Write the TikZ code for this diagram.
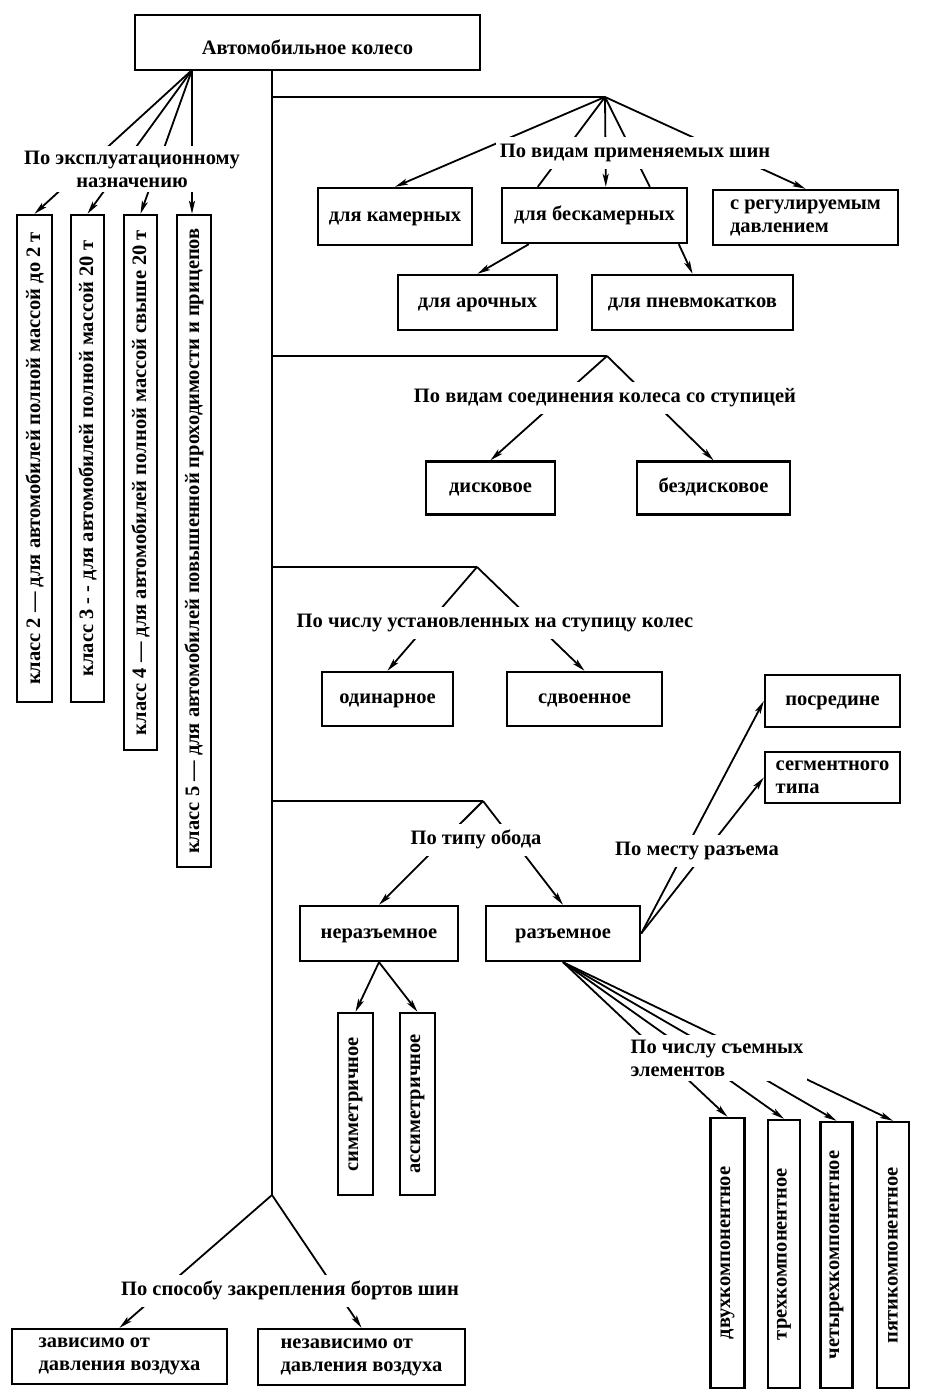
\documentclass[tikz,border=0pt]{standalone}
\usepackage{fontspec}
\usepackage{graphicx}
\setmainfont{Liberation Serif}
\usetikzlibrary{arrows.meta,calc}
\newcommand\myfs{\fontsize{20.5}{23}\selectfont\bfseries}
\begin{document}
\begin{tikzpicture}[x=1pt,y=-1pt,
 vbox/.style={draw,line width=2.4pt,inner sep=2pt,font=\myfs},
 box/.style={vbox,text height=12.7pt,text depth=3.3pt},
 mbox/.style={vbox,align=left},
 lbl/.style={fill=white,inner xsep=4pt,inner ysep=7pt,font=\myfs,text height=13.5pt,text depth=4pt},
 mlbl/.style={fill=white,inner xsep=4pt,inner ysep=5pt,font=\myfs},
 ln/.style={line width=1.8pt},
 arr/.style={ln,-{Stealth[length=13pt,width=6pt,inset=3pt]}},
 trunk/.style={line width=2.4pt}]
\useasboundingbox (0,0) rectangle (925,1400);
% boxes
\node[box,text height=28pt,minimum width=345pt,minimum height=55pt] (wheel) at (307.5,42.5) {Автомобильное колесо};
\node[vbox,minimum width=35pt,minimum height=487pt] (k2) at (34.5,458.5) {\rotatebox{90}{класс 2 — для автомобилей полной массой до 2 т}};
\node[vbox,minimum width=33pt,minimum height=487pt] (k3) at (87.5,458.5) {\rotatebox{90}{класс 3 - - для автомобилей полной массой 20 т}};
\node[vbox,minimum width=33pt,minimum height=535pt] (k4) at (140.5,482.5) {\rotatebox{90}{класс 4 — для автомобилей полной массой свыше 20 т}};
\node[vbox,minimum width=34pt,minimum height=652pt] (k5) at (194,541) {\rotatebox{90}{класс 5 — для автомобилей повышенной проходимости и прицепов}};
\node[box,minimum width=154pt,minimum height=57pt] (kam) at (395,216.5) {для камерных};
\node[box,minimum width=185pt,minimum height=55pt] (besk) at (594.5,215.5) {для бескамерных};
\node[mbox,minimum width=185pt,minimum height=55pt] (reg) at (805.5,217.5) {с регулируемым\\давлением};
\node[box,minimum width=159pt,minimum height=55pt] (aroch) at (477.5,302.5) {для арочных};
\node[box,minimum width=201pt,minimum height=55pt] (pnev) at (692.5,302.5) {для пневмокатков};
\node[box,minimum width=129pt,minimum height=53pt] (disk) at (490.5,488) {дисковое};
\node[box,minimum width=153pt,minimum height=53pt] (bezd) at (713.5,488) {бездисковое};
\node[box,minimum width=131pt,minimum height=54pt] (odin) at (387.5,699) {одинарное};
\node[box,minimum width=155pt,minimum height=54pt] (sdv) at (584.5,699) {сдвоенное};
\node[box,minimum width=135pt,minimum height=52pt] (posr) at (832.5,701) {посредине};
\node[mbox,minimum width=135pt,minimum height=51pt] (segm) at (832.5,777.5) {сегментного\\типа};
\node[box,minimum width=158pt,minimum height=55pt] (neraz) at (379,933.5) {неразъемное};
\node[box,minimum width=154pt,minimum height=55pt] (razh) at (563,933.5) {разъемное};
\node[vbox,minimum width=35pt,minimum height=182pt] (sym) at (355.5,1104) {\rotatebox{90}{симметричное}};
\node[vbox,minimum width=35pt,minimum height=182pt] (asym) at (417.5,1104) {\rotatebox{90}{ассиметричное}};
\node[vbox,minimum width=34pt,minimum height=270pt] (dvuh) at (727.5,1253) {\rotatebox{90}{двухкомпонентное}};
\node[vbox,minimum width=32pt,minimum height=268pt] (tri) at (784,1254) {\rotatebox{90}{трехкомпонентное}};
\node[vbox,minimum width=32pt,minimum height=266pt] (chet) at (836.5,1255) {\rotatebox{90}{четырехкомпонентное}};
\node[vbox,minimum width=32pt,minimum height=266pt] (pyat) at (893,1255) {\rotatebox{90}{пятикомпонентное}};
\node[mbox,minimum width=215pt,minimum height=55pt] (zav) at (119.5,1356.5) {зависимо от\\давления воздуха};
\node[mbox,minimum width=207pt,minimum height=56pt] (nez) at (361.5,1357) {независимо от\\давления воздуха};
% junctions
\coordinate (ttop) at (272,70);
\coordinate (tbot) at (272,1195);
\coordinate (fa) at (192,70);
\coordinate (b1) at (272,97);   \coordinate (a1) at (605,97);
\coordinate (b2) at (272,356);  \coordinate (a2) at (607,356);
\coordinate (b3) at (272,567);  \coordinate (a3) at (477,567);
\coordinate (b4) at (272,801);  \coordinate (a4) at (483,801);
% trunk and branches
\draw[trunk] (ttop) -- (tbot);
\draw[ln] (b1) -- (a1);
\draw[ln] (b2) -- (a2);
\draw[ln] (b3) -- (a3);
\draw[ln] (b4) -- (a4);
% left fan
\draw[arr] (fa) -- (k2.north);
\draw[arr] (fa) -- (k3.north);
\draw[arr] (fa) -- (k4.north);
\draw[arr] (fa) -- (k5.north -| fa);
% branch 1
\draw[arr] (a1) -- (kam.north);
\draw[ln] (a1) -- ($(besk.north west)+(37,0)$);
\draw[arr] (a1) -- ($(besk.north west)+(105,0)$);
\draw[ln] (a1) -- ($(besk.north west)+(149,0)$);
\draw[arr] (a1) -- (reg.north);
\draw[arr] ($(besk.south west)+(28,0)$) -- (aroch.north);
\draw[arr] ($(besk.south west)+(178,0)$) -- (pnev.north);
% branch 2
\draw[arr] (a2) -- (disk.north);
\draw[arr] (a2) -- (bezd.north);
% branch 3
\draw[arr] (a3) -- (odin.north);
\draw[arr] (a3) -- (sdv.north);
% branch 4
\draw[arr] (a4) -- (neraz.north);
\draw[arr] (a4) -- (razh.north);
\draw[arr] (neraz.south) -- (sym.north);
\draw[arr] (neraz.south) -- (asym.north);
\draw[arr] (razh.east) -- (posr.west);
\draw[arr] (razh.east) -- (segm.west);
\draw[arr] (razh.south) -- (dvuh.north);
\draw[arr] (razh.south) -- (tri.north);
\draw[arr] (razh.south) -- (chet.north);
\draw[arr] (razh.south) -- (pyat.north);
% bottom
\draw[arr] (tbot) -- (zav.north);
\draw[arr] (tbot) -- (nez.north);
% labels
\node[mlbl,align=center] (l1) at (132,169) {По эксплуатационному\\назначению};
\node[lbl] (l2) at (635,153) {По видам применяемых шин};
\node[lbl] (l3) at (605,398) {По видам соединения колеса со ступицей};
\node[lbl] (l4) at (495,623) {По числу установленных на ступицу колес};
\node[lbl] (l5) at (476,840) {По типу обода};
\node[lbl] (l6) at (697,851) {По месту разъема};
\node[mlbl,align=left] (l7) at (717,1058) {По числу съемных\\элементов};
\node[lbl] (l8) at (290,1291) {По способу закрепления бортов шин};
\end{tikzpicture}
\end{document}
